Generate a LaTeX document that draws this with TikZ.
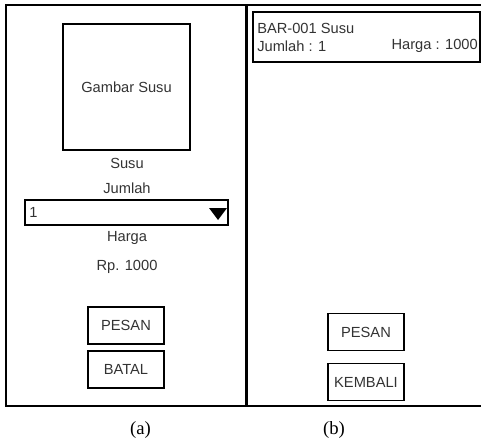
\documentclass[tikz,border=0pt]{standalone}
\usepackage{fontspec}
\setmainfont{Liberation Sans}
\newfontfamily\capfont{Liberation Serif}
\begin{document}
\begin{tikzpicture}[x=0.75pt,y=-0.75pt,
  ui/.style={draw=black, line width=0.9pt},
  lbl/.style={inner sep=0pt, text=black!80, font=\fontsize{11}{13}\selectfont},
  btn/.style={ui, minimum width=76*0.75pt, minimum height=37*0.75pt, inner sep=0pt, text=black!80, font=\fontsize{11}{13}\selectfont},
  subcap/.style={inner sep=0pt, font=\capfont\fontsize{14}{16}\selectfont}]
\useasboundingbox (0,0) rectangle (481,443);
% panels
\draw[ui] (6,5) rectangle (246,406);
\draw[ui] (486,5) -- (247,5) -- (247,406) -- (486,406);
% left panel
\node[ui, minimum width=127*0.75pt, minimum height=126*0.75pt, inner sep=0pt, text=black!80, font=\fontsize{11}{13}\selectfont] (img) at (126.5,87) {Gambar Susu};
\node[lbl] (nama) at (127,163) {Susu};
\node[lbl] (jumlah) at (127,188) {Jumlah};
\node[ui, minimum width=203*0.75pt, minimum height=25*0.75pt, inner sep=0pt] (drop) at (126.5,212.5) {};
\node[lbl, anchor=west] (dropval) at (29,212.5) {1};
\fill[black] (209,208) -- (227,208) -- (218,220) -- cycle;
\node[lbl] (harga) at (127,238) {Harga};
\node[lbl] (rp) at (127,267) {Rp. 1000};
\node[btn] (pesanA) at (126,325.5) {PESAN};
\node[btn] (batal) at (126,369.5) {BATAL};
\node[subcap] (capa) at (140.5,430) {(a)};
% right panel
\node[ui, minimum width=227*0.75pt, minimum height=50*0.75pt, inner sep=0pt] (info) at (366.5,37) {};
\node[lbl, anchor=west] (kode) at (257,28.5) {BAR-001 Susu};
\node[lbl, anchor=west] (jml) at (257,46) {Jumlah : 1};
\node[lbl, anchor=east] (hrg) at (478,46) {Harga : 1000};
\node[btn] (pesanB) at (366,332) {PESAN};
\node[btn] (kembali) at (366,382) {KEMBALI};
\node[subcap] (capb) at (334,430) {(b)};
\end{tikzpicture}
\end{document}
